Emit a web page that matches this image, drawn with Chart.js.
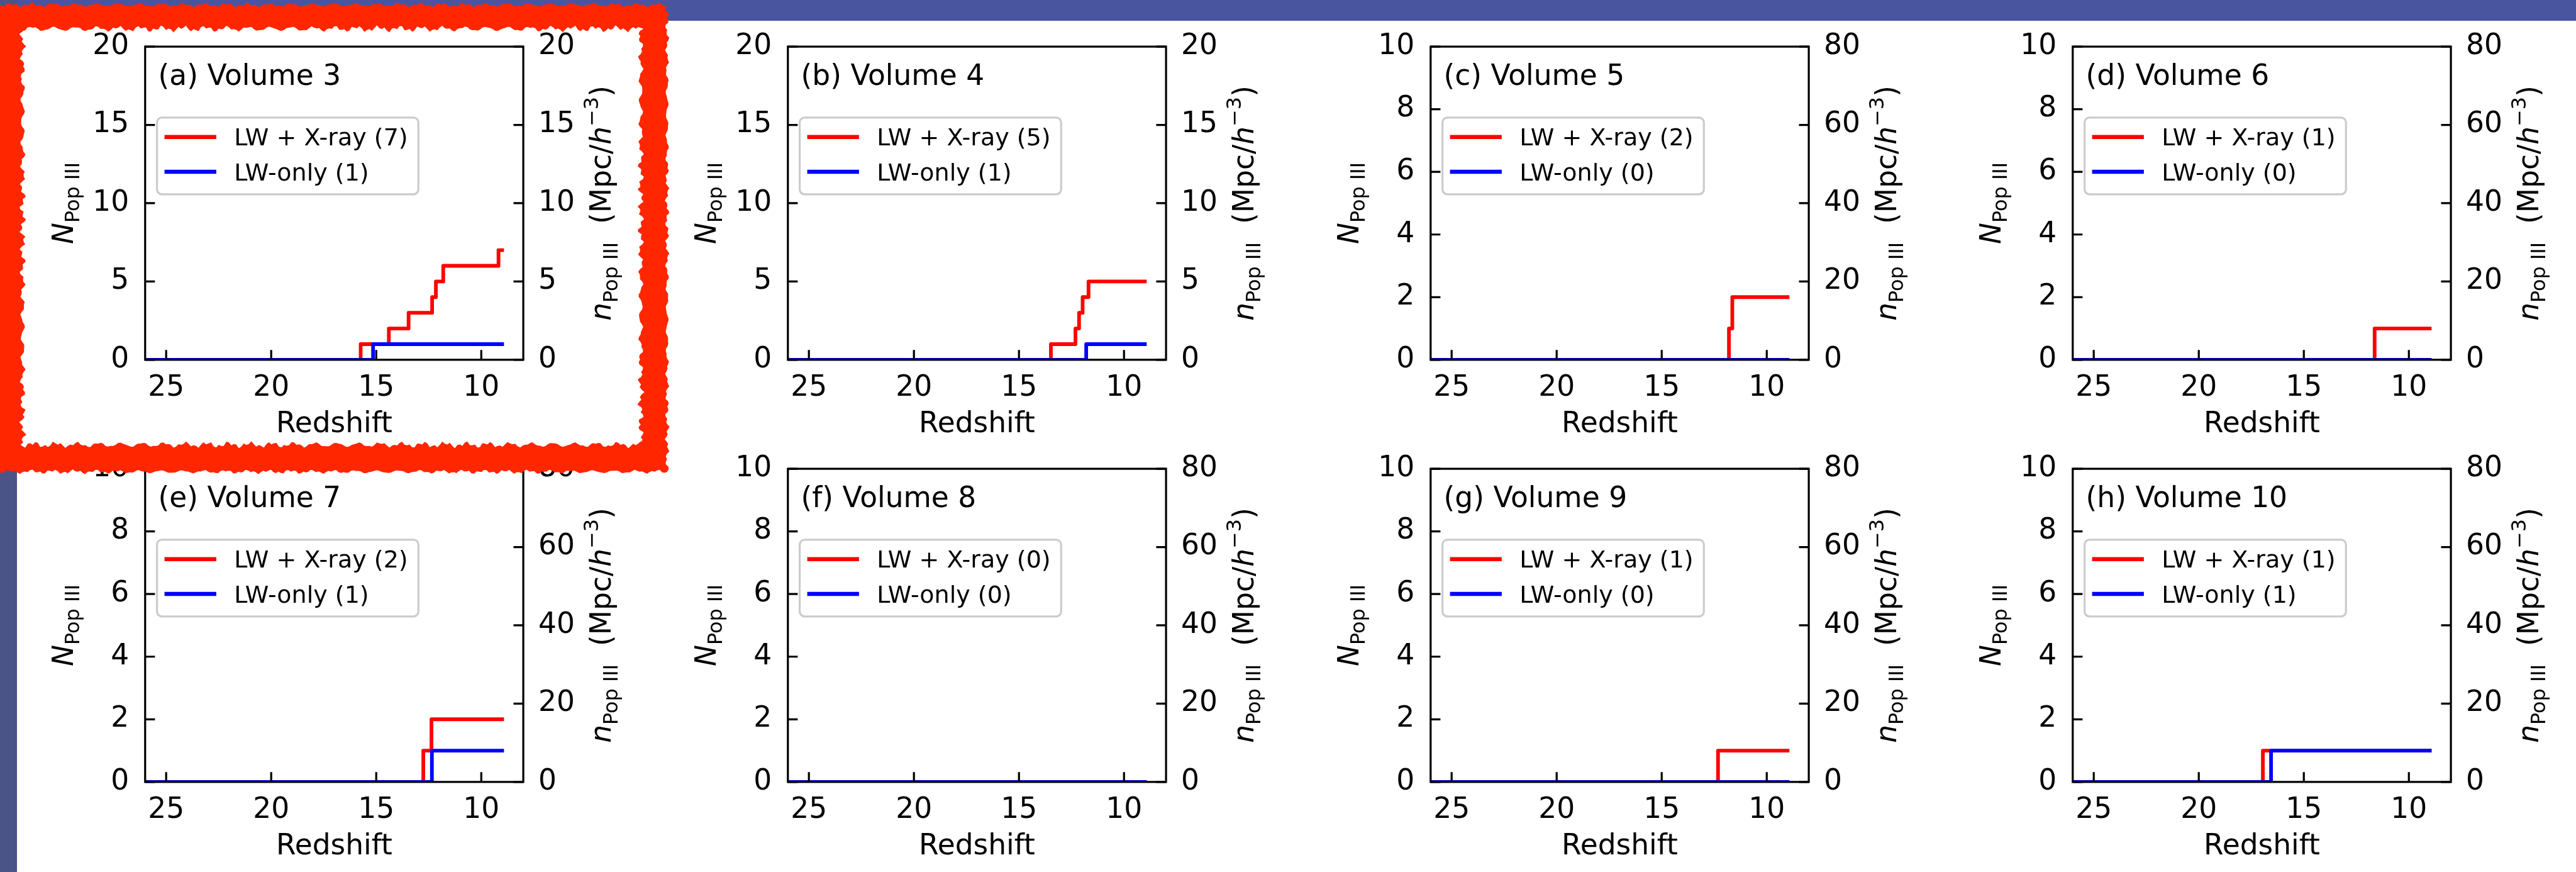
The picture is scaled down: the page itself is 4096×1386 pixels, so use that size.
<!DOCTYPE html>
<html>
<head>
<meta charset="utf-8">
<script src="https://cdn.jsdelivr.net/npm/chart.js@4.4.1/dist/chart.umd.min.js"></script>
<style>
  html, body { margin: 0; padding: 0; background: #fff; }
  #stage { position: relative; width: 4096px; height: 1386px; overflow: hidden; background: #fff; }
  #stage canvas.panel { position: absolute; }
  #band { position: absolute; left: 0; top: 0; width: 4096px; height: 33px; background: #4a55a0; }
  #strip { position: absolute; left: 0; top: 0; width: 27px; height: 1386px; background: #4b5486; }
  #frame { position: absolute; left: 0; top: 0; }
</style>
</head>
<body>
<div id="stage"></div>
<script>
// everything below is measured on the 4199px reference, then scaled
const S = 0.975;

// ---- data ----
const panelTags = ['(a) Volume 3', '(b) Volume 4', '(c) Volume 5', '(d) Volume 6',
                   '(e) Volume 7', '(f) Volume 8', '(g) Volume 9', '(h) Volume 10'];
const xrayTotals = [7, 5, 2, 1, 2, 0, 1, 1];
const lwTotals   = [1, 1, 0, 0, 1, 0, 0, 1];

const xTickValues = [25, 20, 15, 10];
const yTicksWide = [0, 5, 10, 15, 20];
const y2TicksWide = [0, 5, 10, 15, 20];
const yTicksNarrow = [0, 2, 4, 6, 8, 10];
const y2TicksNarrow = [0, 20, 40, 60, 80];

// redshift where each step is placed, and the count held from there on
const xrayZ_a = [26, 15.74, 14.40, 13.46, 12.34, 12.16, 11.81, 9.18, 8.92];
const xrayN_a = [0, 1, 2, 3, 4, 5, 6, 7, 7];
const lwZ_a   = [26, 15.15, 8.92];
const lwN_a   = [0, 1, 1];

const xrayZ_b = [26, 13.48, 12.31, 12.14, 11.97, 11.69, 8.92];
const xrayN_b = [0, 1, 2, 3, 4, 5, 5];
const lwZ_b   = [26, 11.80, 8.92];
const lwN_b   = [0, 1, 1];

const xrayZ_c = [26, 11.80, 11.64, 8.92];
const xrayN_c = [0, 1, 2, 2];
const lwZ_c   = [26, 8.92];
const lwN_c   = [0, 0];

const xrayZ_d = [26, 11.63, 8.92];
const xrayN_d = [0, 1, 1];
const lwZ_d   = [26, 8.92];
const lwN_d   = [0, 0];

const xrayZ_e = [26, 12.76, 12.37, 8.92];
const xrayN_e = [0, 1, 2, 2];
const lwZ_e   = [26, 12.35, 8.92];
const lwN_e   = [0, 1, 1];

const xrayZ_f = [26, 8.92];
const xrayN_f = [0, 0];
const lwZ_f   = [26, 8.92];
const lwN_f   = [0, 0];

const xrayZ_g = [26, 12.32, 8.92];
const xrayN_g = [0, 1, 1];
const lwZ_g   = [26, 8.92];
const lwN_g   = [0, 0];

const xrayZ_h = [26, 16.95, 8.92];
const xrayN_h = [0, 1, 1];
const lwZ_h   = [26, 16.56, 8.92];
const lwN_h   = [0, 1, 1];

// ---- geometry ----
const CW = 1022, CH = 715;
const COL_STEP = 1048 * S, ROW_STEP = 688 * S;
const PLOT_LEFT = 236.7 * S, PLOT_RIGHT = 853.4 * S;
const PLOT_TOP = 76 * S, PLOT_BOTTOM = 586.5 * S;
const FAMILY = "'DejaVu Sans'";
const TICK_PX = 46.7 * S;
const LABEL_PX = 46.7 * S;
const LEGEND_PX = 39 * S;
const RED = '#ff0000', BLUE = '#0000ff';

const stage = document.getElementById('stage');

function toPoints(zs, ns) {
  return zs.map((z, i) => ({ x: z, y: ns[i] }));
}

// draws a row of text pieces along one baseline, rotated if asked
function drawRich(ctx, parts, x, y, rot, center) {
  ctx.save();
  ctx.translate(x, y);
  if (rot) ctx.rotate(rot);
  let total = 0;
  parts.forEach(p => { ctx.font = p.font; p.w = ctx.measureText(p.t).width; total += p.w + (p.gap || 0); });
  let u = center ? -total / 2 : 0;
  ctx.textBaseline = 'alphabetic';
  ctx.textAlign = 'left';
  parts.forEach(p => {
    ctx.font = p.font;
    ctx.fillText(p.t, u, p.dy || 0);
    u += p.w + (p.gap || 0);
  });
  ctx.restore();
}

const axesDecor = {
  id: 'axesDecor',
  afterDatasetsDraw(chart, args, o) {
    const { ctx, chartArea: a, scales } = chart;
    const tl = 16 * S;
    ctx.save();
    ctx.strokeStyle = '#000';
    ctx.lineWidth = 3.3 * S;
    ctx.lineCap = 'butt';
    ctx.beginPath();
    scales.x.ticks.forEach(t => {
      const px = scales.x.getPixelForValue(t.value);
      ctx.moveTo(px, a.bottom); ctx.lineTo(px, a.bottom - tl);
    });
    scales.y.ticks.forEach(t => {
      const py = scales.y.getPixelForValue(t.value);
      ctx.moveTo(a.left, py); ctx.lineTo(a.left + tl, py);
    });
    scales.y2.ticks.forEach(t => {
      const py = scales.y2.getPixelForValue(t.value);
      ctx.moveTo(a.right, py); ctx.lineTo(a.right - tl, py);
    });
    ctx.stroke();
    ctx.strokeRect(a.left, a.top, a.right - a.left, a.bottom - a.top);

    ctx.fillStyle = '#000';
    // panel tag
    ctx.font = `${LABEL_PX}px ${FAMILY}`;
    ctx.textAlign = 'left';
    ctx.textBaseline = 'alphabetic';
    ctx.fillText(o.tag, a.left + 21.3 * S, a.top + 62 * S);

    // legend
    ctx.font = `${LEGEND_PX}px ${FAMILY}`;
    const rows = [
      { color: RED, text: `LW + X-ray (${o.xrayTotal})` },
      { color: BLUE, text: `LW-only (${o.lwTotal})` }
    ];
    const textW = Math.max(...rows.map(r => ctx.measureText(r.text).width));
    const bx = a.left + 19.3 * S, by = a.top + 115.7 * S;
    const bw = (145 - 19.3) * S + textW + 17 * S, bh = 125 * S;
    ctx.beginPath();
    ctx.roundRect(bx, by, bw, bh, 8 * S);
    ctx.fillStyle = 'rgba(255,255,255,0.8)';
    ctx.fill();
    ctx.strokeStyle = '#cccccc';
    ctx.lineWidth = 3.3 * S;
    ctx.stroke();
    rows.forEach((r, i) => {
      const hy = a.top + (147.3 + i * 56.7) * S;
      ctx.strokeStyle = r.color;
      ctx.lineWidth = 6.5 * S;
      ctx.beginPath();
      ctx.moveTo(a.left + 31.6 * S, hy);
      ctx.lineTo(a.left + 116 * S, hy);
      ctx.stroke();
      ctx.fillStyle = '#000';
      ctx.fillText(r.text, a.left + 145 * S, a.top + (161.3 + i * 56.7) * S);
    });

    // axis titles
    const F = LABEL_PX;
    const up = `${F}px ${FAMILY}`, it = `oblique ${F}px ${FAMILY}`, sm = `${0.7 * F}px ${FAMILY}`;
    const cy = (a.top + a.bottom) / 2;
    ctx.textAlign = 'center';
    ctx.font = up;
    ctx.fillText('Redshift', (a.left + a.right) / 2, a.bottom + 118.5 * S);
    drawRich(ctx, [
      { t: 'N', font: it },
      { t: 'Pop III', font: sm, dy: 0.22 * F }
    ], a.left - 117.7 * S, cy, -Math.PI / 2, true);
    drawRich(ctx, [
      { t: 'n', font: it },
      { t: 'Pop III', font: sm, dy: 0.22 * F },
      { t: '  (Mpc/', font: up },
      { t: 'h', font: it },
      { t: '\u22123', font: sm, dy: -0.45 * F },
      { t: ')', font: up }
    ], a.right + 143 * S, cy, -Math.PI / 2, true);
    ctx.restore();
  }
};

function tickFont() {
  return { family: 'DejaVu Sans', size: TICK_PX, lineHeight: 1.2 };
}

function makePanel(idx, xz, xn, lz, ln) {
  const col = idx % 4, row = Math.floor(idx / 4);
  const wide = idx < 2;
  const yTicks = wide ? yTicksWide : yTicksNarrow;
  const y2Ticks = wide ? y2TicksWide : y2TicksNarrow;

  const cv = document.createElement('canvas');
  cv.className = 'panel';
  cv.width = CW; cv.height = CH;
  cv.style.width = CW + 'px'; cv.style.height = CH + 'px';
  cv.style.left = Math.round(col * COL_STEP) + 'px';
  cv.style.top = Math.round(row * ROW_STEP) + 'px';
  stage.appendChild(cv);

  new Chart(cv, {
    type: 'line',
    data: {
      datasets: [
        { data: toPoints(xz, xn), borderColor: RED, order: 2 },
        { data: toPoints(lz, ln), borderColor: BLUE, order: 1 }
      ]
    },
    options: {
      responsive: false,
      animation: false,
      devicePixelRatio: 1,
      events: [],
      parsing: false,
      layout: { padding: { top: PLOT_TOP, left: 0, right: 0, bottom: 0 } },
      datasets: {
        line: {
          stepped: true, borderWidth: 6 * S, pointRadius: 0, fill: false,
          clip: 0, borderJoinStyle: 'round', borderCapStyle: 'butt', tension: 0
        }
      },
      plugins: {
        legend: { display: false },
        tooltip: { enabled: false },
        axesDecor: {
          tag: panelTags[idx], xrayTotal: xrayTotals[idx], lwTotal: lwTotals[idx]
        }
      },
      scales: {
        x: {
          type: 'linear', position: 'bottom', min: 8, max: 26, reverse: true,
          grid: { display: false }, border: { display: false },
          afterBuildTicks: s => { s.ticks = xTickValues.map(v => ({ value: v })); },
          afterFit: s => { s.height = CH - PLOT_BOTTOM; },
          ticks: { font: tickFont(), color: '#000', padding: 10, maxRotation: 0, autoSkip: false,
                   callback: v => String(v) }
        },
        y: {
          type: 'linear', position: 'left', min: 0, max: yTicks[yTicks.length - 1],
          grid: { display: false }, border: { display: false },
          afterBuildTicks: s => { s.ticks = yTicks.map(v => ({ value: v })); },
          afterFit: s => { s.width = PLOT_LEFT; },
          ticks: { font: tickFont(), color: '#000', padding: 17.5, autoSkip: false,
                   callback: v => String(v) }
        },
        y2: {
          type: 'linear', position: 'right', min: 0, max: y2Ticks[y2Ticks.length - 1],
          grid: { display: false }, border: { display: false },
          afterBuildTicks: s => { s.ticks = y2Ticks.map(v => ({ value: v })); },
          afterFit: s => { s.width = CW - PLOT_RIGHT; },
          ticks: { font: tickFont(), color: '#000', padding: 16, autoSkip: false,
                   callback: v => String(v) }
        }
      }
    },
    plugins: [axesDecor]
  });
}

makePanel(0, xrayZ_a, xrayN_a, lwZ_a, lwN_a);
makePanel(1, xrayZ_b, xrayN_b, lwZ_b, lwN_b);
makePanel(2, xrayZ_c, xrayN_c, lwZ_c, lwN_c);
makePanel(3, xrayZ_d, xrayN_d, lwZ_d, lwN_d);
makePanel(4, xrayZ_e, xrayN_e, lwZ_e, lwN_e);
makePanel(5, xrayZ_f, xrayN_f, lwZ_f, lwN_f);
makePanel(6, xrayZ_g, xrayN_g, lwZ_g, lwN_g);
makePanel(7, xrayZ_h, xrayN_h, lwZ_h, lwN_h);

// overlays on top of the figure: blue bars and the rough red box round panel (a)
const band = document.createElement('div'); band.id = 'band'; stage.appendChild(band);
const strip = document.createElement('div'); strip.id = 'strip'; stage.appendChild(strip);

function ragged(ctx, pts, amp, seed) {
  let k = 0;
  for (let s = 0; s < 4; s++) {
    const [x0, y0] = pts[s], [x1, y1] = pts[(s + 1) % 4];
    const len = Math.hypot(x1 - x0, y1 - y0), n = Math.ceil(len / 4);
    const nx = -(y1 - y0) / len, ny = (x1 - x0) / len;
    for (let i = 0; i < n; i++) {
      const t = i / n;
      const w = amp * (0.5 * Math.sin(k * 0.73 + seed) + 0.3 * Math.sin(k * 1.91 + seed * 3) +
                       0.2 * Math.sin(k * 4.3 + seed * 7));
      const x = x0 + (x1 - x0) * t + nx * w, y = y0 + (y1 - y0) * t + ny * w;
      if (k === 0) ctx.moveTo(x, y); else ctx.lineTo(x, y);
      k++;
    }
  }
  ctx.closePath();
}

const fr = document.createElement('canvas');
fr.id = 'frame'; fr.width = 4096; fr.height = 1386;
stage.appendChild(fr);
const fctx = fr.getContext('2d');
fctx.fillStyle = '#ff2600';
fctx.beginPath();
ragged(fctx, [[-4, 8 * S], [1088 * S, 8 * S], [1088 * S, 769 * S], [-4, 769 * S]], 4, 1);
ragged(fctx, [[37 * S, 47 * S], [1045 * S, 47 * S], [1045 * S, 725 * S], [37 * S, 725 * S]], 6, 2);
fctx.fill('evenodd');
</script>
</body>
</html>
